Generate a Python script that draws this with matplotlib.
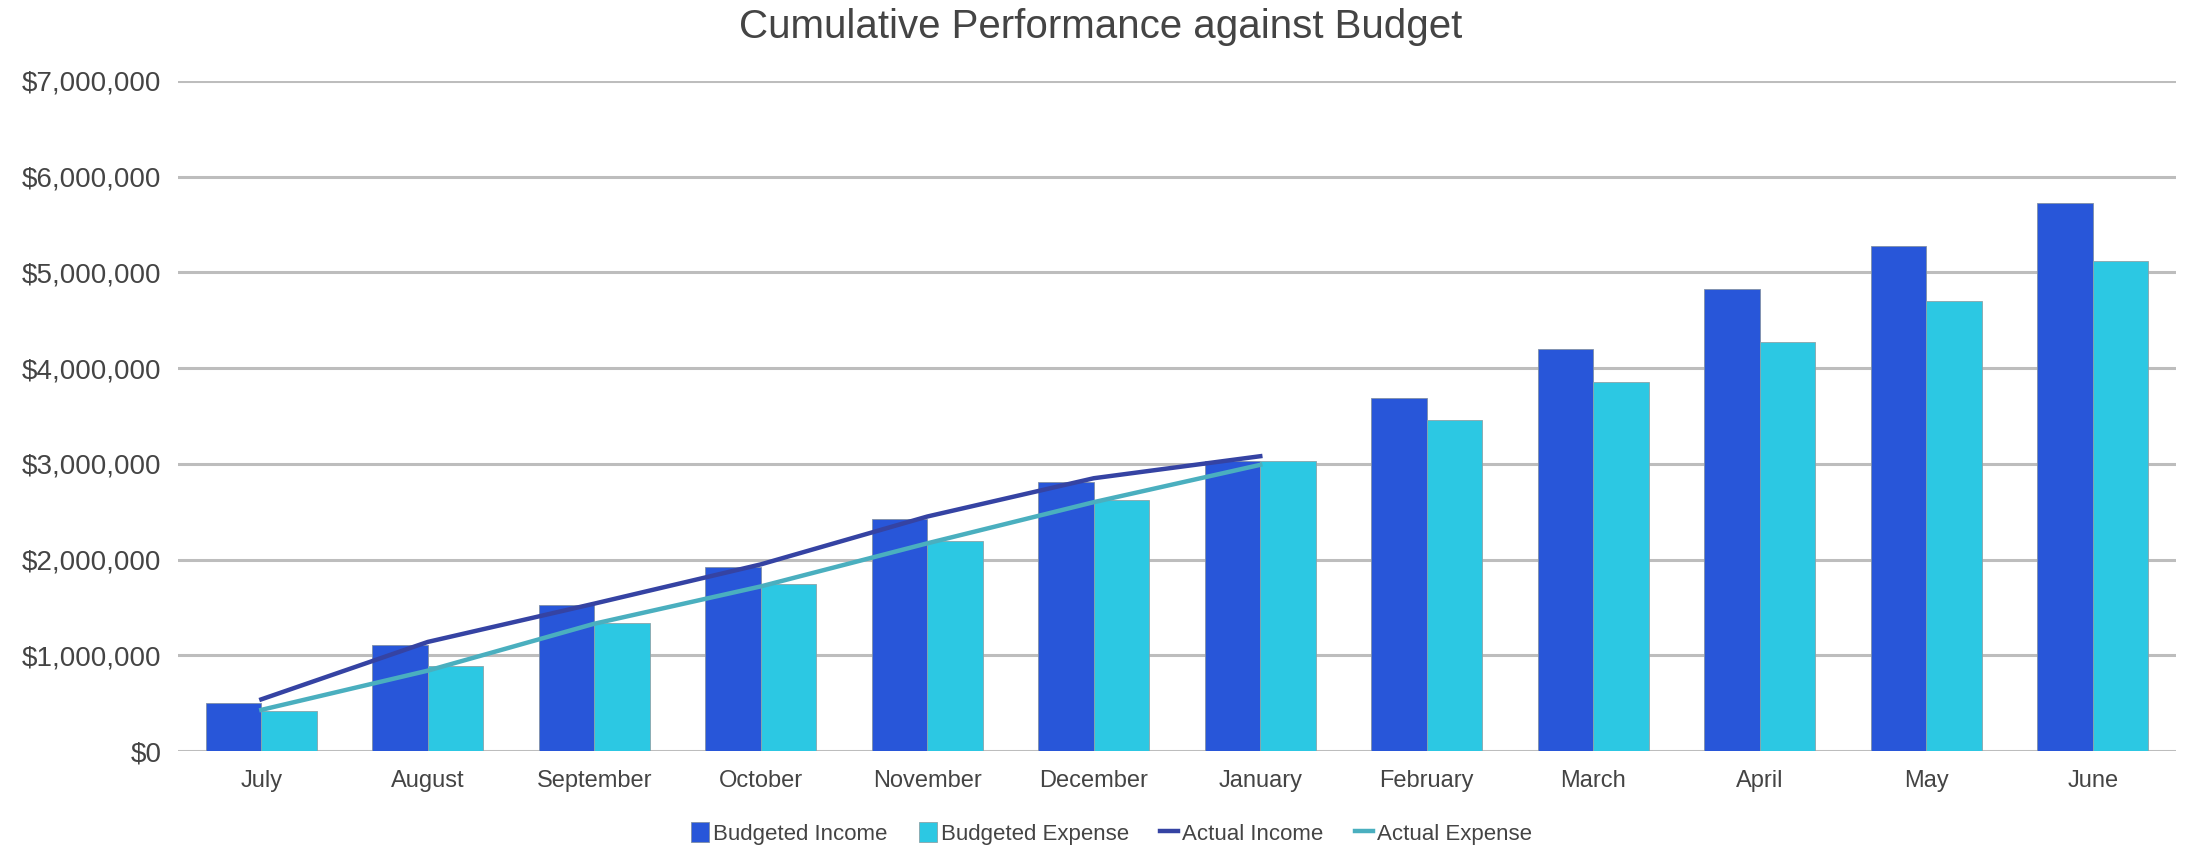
import numpy as np
import matplotlib
matplotlib.use('Agg')
import matplotlib.pyplot as plt
from matplotlib.ticker import FuncFormatter

plt.rcParams['font.family'] = ['Liberation Sans', 'DejaVu Sans']

months = ['July', 'August', 'September', 'October', 'November', 'December',
          'January', 'February', 'March', 'April', 'May', 'June']
budgeted_income = [500000, 1110000, 1530000, 1920000, 2420000, 2810000,
                   3030000, 3690000, 4200000, 4830000, 5280000, 5730000]
budgeted_expense = [420000, 890000, 1340000, 1750000, 2190000, 2620000,
                    3030000, 3460000, 3860000, 4270000, 4700000, 5120000]
actual_income = [540000, 1140000, 1540000, 1950000, 2450000, 2850000, 3080000]
actual_expense = [430000, 840000, 1330000, 1720000, 2170000, 2600000, 2990000]

c_inc = '#2856D9'
c_exp = '#2CC8E3'
c_ainc = '#3543A3'
c_aexp = '#4AAFBF'

fig = plt.figure(figsize=(21.88, 8.49), dpi=100)
ax = fig.add_axes([0.0814, 0.1154, 0.9131, 0.7892])

x = np.arange(len(months))
w = 0.333
b1 = ax.bar(x - w / 2, budgeted_income, w, color=c_inc, edgecolor='#7f8fa8',
            linewidth=0.6, label='Budgeted Income', zorder=2)
b2 = ax.bar(x + w / 2, budgeted_expense, w, color=c_exp, edgecolor='#8aa4aa',
            linewidth=0.6, label='Budgeted Expense', zorder=2)
l1, = ax.plot(x[:len(actual_income)], actual_income, color=c_ainc, lw=3.2,
              label='Actual Income', zorder=3)
l2, = ax.plot(x[:len(actual_expense)], actual_expense, color=c_aexp, lw=3.2,
              label='Actual Expense', zorder=3)

ax.set_xlim(-0.5, len(months) - 0.5)
ax.set_ylim(0, 7000000)
ax.set_yticks(np.arange(0, 7000001, 1000000))
ax.yaxis.set_major_formatter(FuncFormatter(lambda v, p: '${:,.0f}'.format(v)))
ax.set_xticks(x)
ax.set_xticklabels(months)
ax.grid(axis='y', color='#bdbdbd', lw=2.2, zorder=0)
ax.set_axisbelow(True)
for s in ax.spines.values():
    s.set_visible(False)
ax.tick_params(axis='both', length=0, colors='#444444')
ax.tick_params(axis='y', labelsize=20, pad=12)
ax.tick_params(axis='x', labelsize=17, pad=14)

fig.suptitle('Cumulative Performance against Budget', x=0.503, y=0.99,
             fontsize=29, color='#444444')

leg = fig.legend([b1, b2, l1, l2],
                 ['Budgeted Income', 'Budgeted Expense', 'Actual Income', 'Actual Expense'],
                 loc='center', bbox_to_anchor=(0.508, 0.018), ncol=4,
                 frameon=False, fontsize=16, handlelength=0.8,
                 handleheight=1.0, handletextpad=0.2, columnspacing=1.4)
for t in leg.get_texts():
    t.set_color('#444444')

fig.savefig('out.png', dpi=100, facecolor='white')
